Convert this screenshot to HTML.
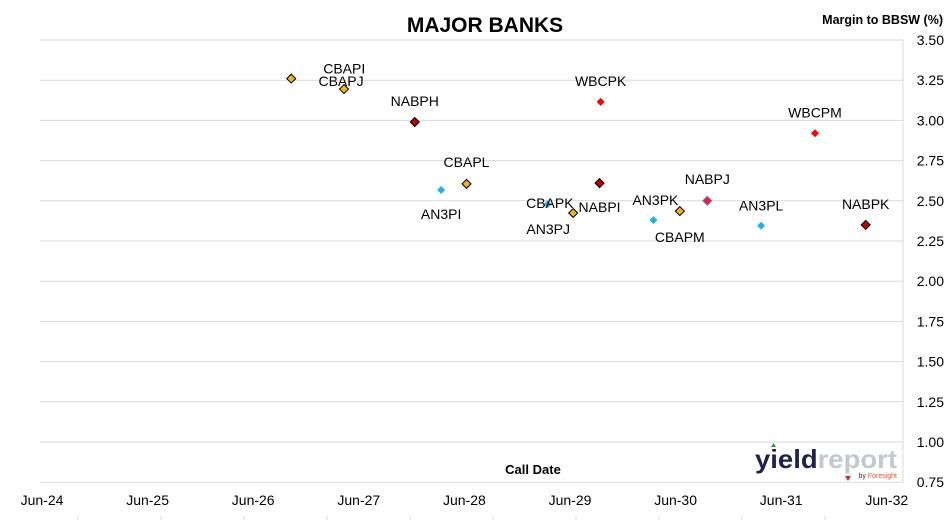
<!DOCTYPE html>
<html><head><meta charset="utf-8"><style>
body{margin:0;background:#fff;}
svg{display:block;font-family:"Liberation Sans",Arial,sans-serif;}
</style></head><body>
<svg id="c" width="947" height="520" viewBox="0 0 947 520">
<text x="485" y="32" font-size="21" font-weight="bold" text-anchor="middle">MAJOR BANKS</text>
<text x="943" y="24" font-size="12.5" font-weight="bold" text-anchor="end">Margin to BBSW (%)</text>
<text x="533" y="474" font-size="13" font-weight="bold" text-anchor="middle">Call Date</text>
<g id="grid"></g><g id="pts"></g>
<g>
<text x="755" y="468" font-size="26" font-weight="bold" fill="#1f2148" textLength="142" lengthAdjust="spacingAndGlyphs">yield<tspan fill="#c5c8cc">report</tspan></text>
<polygon points="771,447 776,447 773.5,443" fill="#2a9d3a"/>
<text x="897" y="478" font-size="7" fill="#e8502f" text-anchor="end"><tspan fill="#333">by </tspan>Foresight</text>
<polygon points="845,476 851,476 848,481" fill="#e8202a"/>
</g>
</svg>
<script>
const ns="http://www.w3.org/2000/svg";
const yTicks=[0.75,1.00,1.25,1.50,1.75,2.00,2.25,2.50,2.75,3.00,3.25,3.50];
const xLabels=["Jun-24","Jun-25","Jun-26","Jun-27","Jun-28","Jun-29","Jun-30","Jun-31","Jun-32"];
const names=["CBAPI","CBAPJ","NABPH","AN3PI","CBAPL","CBAPK","AN3PJ","NABPI","WBCPK","AN3PK","CBAPM","NABPJ","AN3PL","WBCPM","NABPK"];
const callYears=[2.36,2.86,3.53,3.78,4.02,4.79,5.03,5.28,5.29,5.79,6.04,6.30,6.81,7.32,7.80];
const margins=[3.26,3.195,2.99,2.567,2.605,2.48,2.424,2.61,3.115,2.38,2.436,2.50,2.345,2.92,2.35];
const kinds=["cba","cba","nab","anz","cba","anz","cba","nab","wbc","anz","cba","nabj","anz","wbc","nab"];
const labelOff=[[53,-10],[-3,-8],[0,-21],[0,24],[0,-22],[2,-1],[-25,16],[0,24],[0,-21],[2,-20],[0,26],[0,-22],[0,-20],[0,-21],[0,-21]];
const Y=v=>40+(3.5-v)/0.25*40.2;
const X=t=>42+t*105.6;
const g=document.getElementById("grid"),p=document.getElementById("pts");
function el(t,a,par){const e=document.createElementNS(ns,t);for(const k in a)e.setAttribute(k,a[k]);par.appendChild(e);return e;}
yTicks.forEach(v=>{
 const l=el("line",{x1:40,x2:903,y1:Y(v),y2:Y(v),stroke:"#d9d9d9","stroke-width":1},g);
 
 
 const t=el("text",{x:944,y:Y(v)+5,"font-size":14,"text-anchor":"end"},g);t.textContent=v.toFixed(2);
 
 
});
const ax=el("line",{x1:903,x2:903,y1:40,y2:482,stroke:"#d9d9d9"},g);


xLabels.forEach((s,i)=>{
 const t=el("text",{x:X(i),y:505,"font-size":14,"text-anchor":"middle"},g);t.textContent=s;
 
 
});
for(let x=78;x<905;x+=83){const tk=el("line",{x1:x,x2:x,y1:516,y2:520,stroke:"#d9d9d9"},g);
 
 }
const sty={cba:["#f0b323","#000",4.5],nab:["#c00000","#000",4.5],wbc:["#ff0000","none",4],anz:["#1eb4e8","none",4],nabj:["#e8203a","#7a7aa8",4.5]};
names.forEach((n,i)=>{
 const cx=X(callYears[i]),cy=Y(margins[i]),[f,s,r]=sty[kinds[i]];
 const m=el("polygon",{points:`${cx},${cy-r} ${cx+r},${cy} ${cx},${cy+r} ${cx-r},${cy}`,fill:f,stroke:s,"stroke-width":1},p);
 
 
 const t=el("text",{x:cx+labelOff[i][0],y:cy+labelOff[i][1]+5,"font-size":14,"text-anchor":"middle"},p);t.textContent=n;
 
 
});
</script>
</body></html>
